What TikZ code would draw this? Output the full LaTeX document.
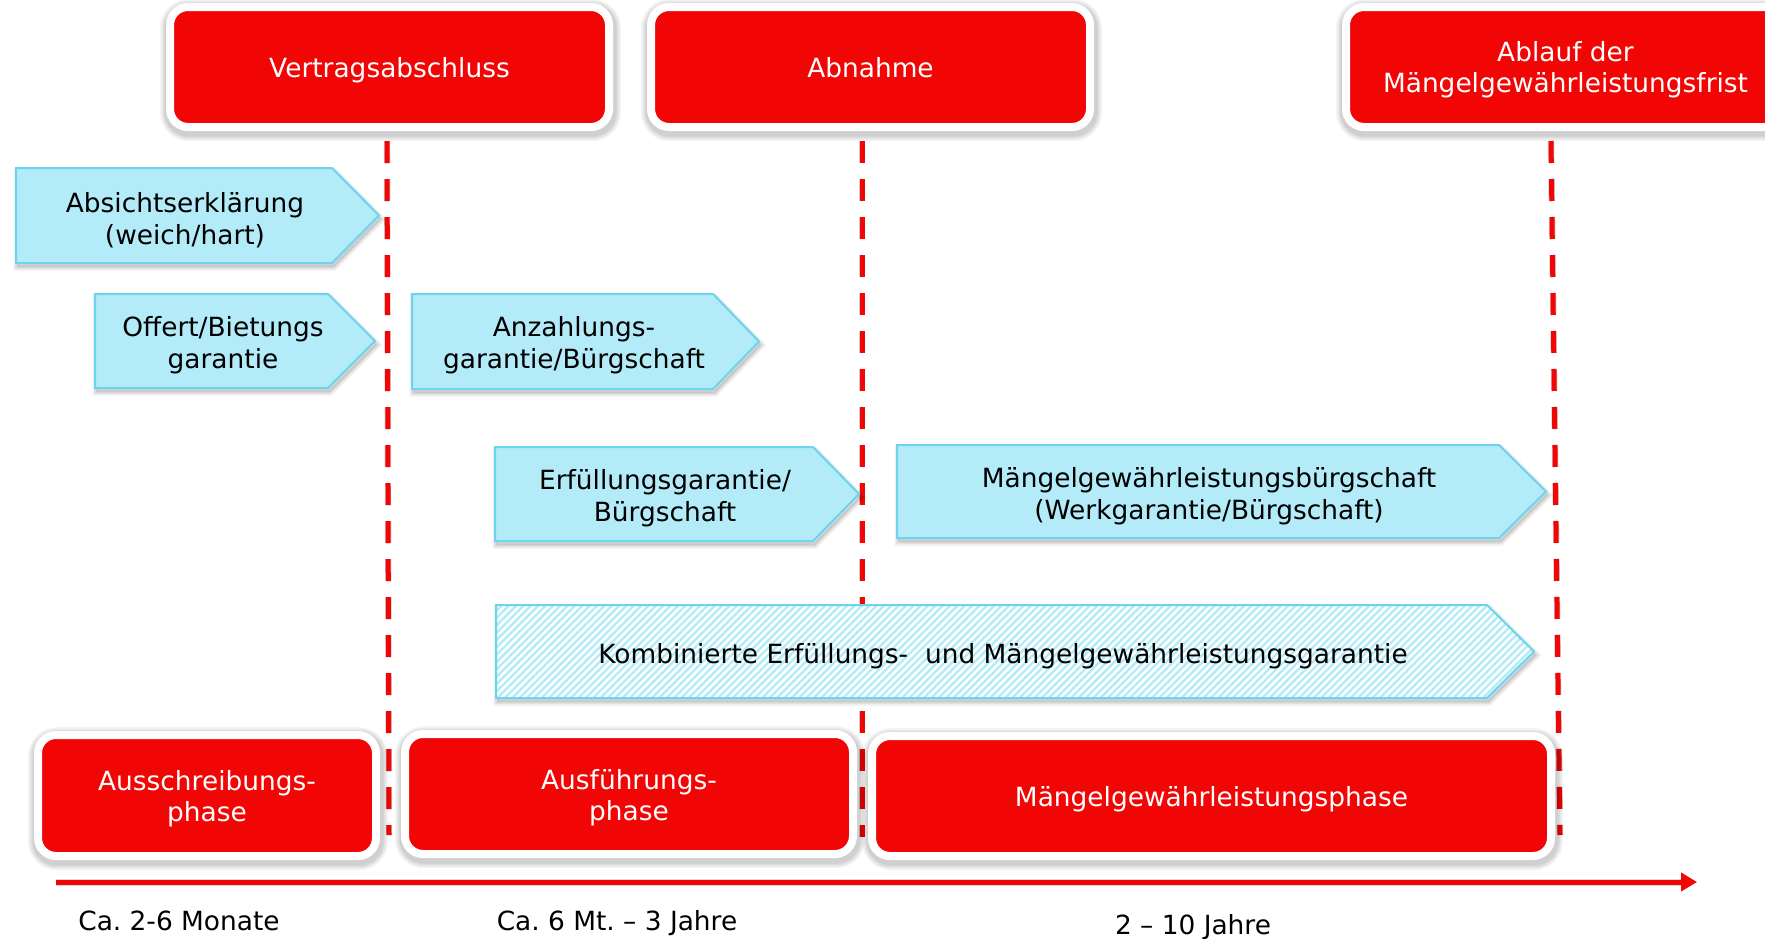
\documentclass[tikz,border=0pt]{standalone}
\usepackage{fontspec}
\setmainfont{DejaVu Sans}
\frenchspacing
\usetikzlibrary{patterns.meta,arrows.meta,calc}
\definecolor{myred}{RGB}{242,5,5}
\definecolor{lblue}{RGB}{179,236,248}
\definecolor{bblue}{RGB}{108,212,238}
\tikzset{
 redshadow/.style={
   preaction={fill=none, draw=black, opacity=0.045, line width=11pt, transform canvas={xshift=0.5pt,yshift=-1.6pt}},
   preaction={fill=none, draw=black, opacity=0.045, line width=9.5pt, transform canvas={xshift=0.5pt,yshift=-1.6pt}},
   preaction={fill=none, draw=black, opacity=0.05, line width=8pt, transform canvas={xshift=0.5pt,yshift=-1.6pt}},
   preaction={fill=none, draw=black, opacity=0.06, line width=6.5pt, transform canvas={xshift=0.5pt,yshift=-1.6pt}}},
 blueshadow/.style={
   preaction={fill=black, draw=black, opacity=0.06, line width=4pt, transform canvas={xshift=0.8pt,yshift=-1.8pt}},
   preaction={fill=none, draw=black, opacity=0.06, line width=2.5pt, transform canvas={xshift=0.8pt,yshift=-1.8pt}},
   preaction={fill=none, draw=black, opacity=0.07, line width=1pt, transform canvas={xshift=0.8pt,yshift=-1.8pt}}},
 redbox/.style={redshadow, fill=myred, draw=white, line width=4pt, rounded corners=9pt, inner sep=0pt},
 wtxt/.style={text=white, font=\fontsize{13.2pt}{15.5pt}\selectfont, align=center, inner sep=0pt, yshift=-1.6pt},
 arrowbox/.style={blueshadow, fill=lblue, draw=bblue, line width=1pt, line join=miter},
 hatchbox/.style={blueshadow, draw=bblue, line width=1pt,
   preaction={fill=white},
   pattern={Lines[angle=45,distance=2.6pt,line width=1.2pt]}, pattern color=lblue},
 blk/.style={font=\fontsize{13.2pt}{16pt}\selectfont, align=center, inner sep=0pt, text=black, yshift=-1.6pt},
 durtxt/.style={font=\fontsize{13.2pt}{16pt}\selectfont, inner sep=0pt, text=black, anchor=base},
 dashline/.style={myred, line width=2.5pt, dash pattern=on 11pt off 8pt},
 dashshadow/.style={black, opacity=0.2, line width=3.2pt, dash pattern=on 11pt off 8pt, yshift=-4pt, xshift=0.4pt},
}
\begin{document}
\begin{tikzpicture}[x=0.5pt,y=-0.5pt]
\useasboundingbox[fill=white] (0,0) rectangle (1765,938);

% dashed milestone lines
\coordinate (d1a) at (387,141); \coordinate (d1b) at (389,835);
\coordinate (d2a) at (862,141); \coordinate (d2b) at (862,837);
\coordinate (d3a) at (1551,141); \coordinate (d3b) at (1560,835);
\foreach \a/\b in {d1a/d1b,d2a/d2b,d3a/d3b}{
  \draw[dashshadow] (\a) -- (\b);
  \draw[dashline] (\a) -- (\b);
}

% top milestone boxes
\node[redbox, minimum width=219.5pt, minimum height=60pt] (vertrag) at (389.5,67) {};
\node[wtxt] (vertragt) at (vertrag.center) {Vertragsabschluss};
\node[redbox, minimum width=219.5pt, minimum height=60pt] (abnahme) at (870.5,67) {};
\node[wtxt] (abnahmet) at ($(abnahme.center)+(0,-3)$) {Abnahme};
\node[redbox, minimum width=219.5pt, minimum height=60pt] (ablauf) at (1565.5,67) {};
\node[wtxt] (ablauft) at (ablauf.center) {Ablauf der\\Mängelgewährleistungsfrist};

% guarantee arrows
\draw[arrowbox] (16,168) -- (332,168) -- (379,215.5) -- (332,263) -- (16,263) -- cycle;
\node[blk] (absicht) at (185,217) {Absichtserklärung\\(weich/hart)};

\draw[arrowbox] (95,294) -- (328,294) -- (375,341) -- (328,388) -- (95,388) -- cycle;
\node[blk] (offert) at (223,342) {Offert/Bietungs\\garantie};

\draw[arrowbox] (412,294) -- (713,294) -- (759,341.5) -- (713,389) -- (412,389) -- cycle;
\node[blk] (anzahlung) at (574,342) {Anzahlungs-\\garantie/Bürgschaft};

\draw[arrowbox] (495,447) -- (813,447) -- (859,494) -- (813,541) -- (495,541) -- cycle;
\node[blk] (erfuellung) at (665,495) {Erfüllungsgarantie/\\Bürgschaft};

\draw[arrowbox] (897,445) -- (1499,445) -- (1546,491.5) -- (1499,538) -- (897,538) -- cycle;
\node[blk] (maengelb) at (1209,493) {Mängelgewährleistungsbürgschaft\\(Werkgarantie/Bürgschaft)};

\draw[hatchbox] (496,605) -- (1487,605) -- (1534,651.5) -- (1487,698) -- (496,698) -- cycle;
\node[blk] (kombi) at (1003,653) {Kombinierte Erfüllungs-\ \ und Mängelgewährleistungsgarantie};

% phase boxes
\node[redbox, minimum width=169pt, minimum height=60.5pt] (ausschr) at (207,795.5) {};
\node[wtxt] (ausschrt) at (ausschr.center) {Ausschreibungs-\\phase};
\node[redbox, minimum width=224pt, minimum height=60pt] (ausf) at (629,794) {};
\node[wtxt] (ausft) at (ausf.center) {Ausführungs-\\phase};
\node[redbox, minimum width=339.5pt, minimum height=60pt] (maengelp) at (1211.5,796) {};
\node[wtxt] (maengelpt) at (maengelp.center) {Mängelgewährleistungsphase};

% time axis
\coordinate (tstart) at (56,882);
\coordinate (tend) at (1697,882);
\draw[black, opacity=0.15, line width=3.5pt, yshift=-3pt] (tstart) -- ($(tend)+(-14,0)$);
\draw[myred, line width=2.5pt, -{Triangle[length=8pt,width=9pt]}] (tstart) -- (tend);

% durations
\node[durtxt] (dur1) at (179,930) {Ca. 2-6 Monate};
\node[durtxt] (dur2) at (617,930) {Ca. 6 Mt. – 3 Jahre};
\node[durtxt] (dur3) at (1193,934) {2 – 10 Jahre};
\end{tikzpicture}
\end{document}
